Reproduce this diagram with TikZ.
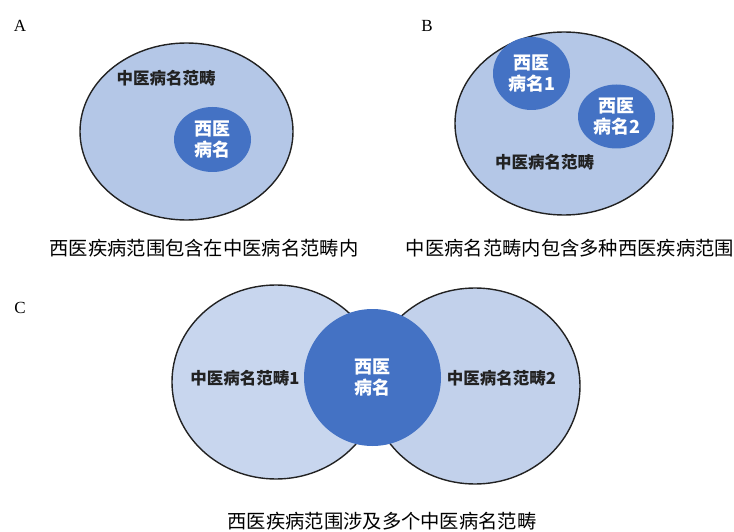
\documentclass[tikz,border=0pt]{standalone}
\usepackage{fontspec}
\setmainfont{Liberation Serif}
\newfontfamily\cjk{Noto Sans CJK SC}
\usetikzlibrary{shapes.geometric}
\definecolor{outerA}{HTML}{B4C7E7}
\definecolor{outerCl}{HTML}{C8D6EE}
\definecolor{outerCr}{HTML}{C2D1EB}
\definecolor{innerblue}{HTML}{4472C4}
\definecolor{edgecol}{HTML}{222222}
\tikzset{
  bigell/.style={ellipse, draw=edgecol, line width=1.4pt, fill=outerA, inner sep=0pt},
  smallell/.style={ellipse, fill=innerblue, inner sep=0pt, text=white, align=center,
    font=\cjk\bfseries\fontsize{18}{21.5}\selectfont},
  lab/.style={font=\cjk\bfseries\fontsize{16.5}{20}\selectfont, text=edgecol, inner sep=0pt},
  captext/.style={font=\cjk\fontsize{19.3}{22}\selectfont, inner sep=0pt},
  panel/.style={font=\fontsize{17}{20}\selectfont, inner sep=0pt}
}
\begin{document}
\begin{tikzpicture}[x=1pt,y=-1pt]
\useasboundingbox (0,0) rectangle (734,532);
% Panel A
\node[panel] (pA) at (20,26) {A};
\node[bigell, minimum width=213pt, minimum height=177pt] (Aouter) at (186.5,131.5) {};
\node[smallell, minimum width=77pt, minimum height=65pt] (Ainner) at (212.5,139.5) {西医\\病名};
\node[lab] (Alab) at (166,78) {中医病名范畴};
\node[captext] (Acap) at (204,248) {西医疾病范围包含在中医病名范畴内};
% Panel B
\node[panel] (pB) at (427,26) {B};
\node[bigell, minimum width=218pt, minimum height=183pt] (Bouter) at (564,123.5) {};
\node[smallell, minimum width=77pt, minimum height=73pt] (Binner1) at (531.5,73.5) {西医\\病名1};
\node[smallell, minimum width=77pt, minimum height=64pt] (Binner2) at (616.5,116.5) {西医\\病名2};
\node[lab] (Blab) at (544.5,162) {中医病名范畴};
\node[captext] (Bcap) at (570,248) {中医病名范畴内包含多种西医疾病范围};
% Panel C
\node[panel] (pC) at (20,308) {C};
\node[bigell, fill=outerCl, minimum width=208pt, minimum height=194pt] (Cleft) at (276,382) {};
\node[bigell, fill=outerCr, minimum width=210pt, minimum height=196pt] (Cright) at (475,386) {};
\node[smallell, circle, minimum size=137pt] (Ccenter) at (372.5,377.5) {西医\\病名};
\node[lab] (Clab1) at (245,378) {中医病名范畴1};
\node[lab] (Clab2) at (501.5,378) {中医病名范畴2};
\node[captext] (Ccap) at (382,521) {西医疾病范围涉及多个中医病名范畴};
\end{tikzpicture}
\end{document}
